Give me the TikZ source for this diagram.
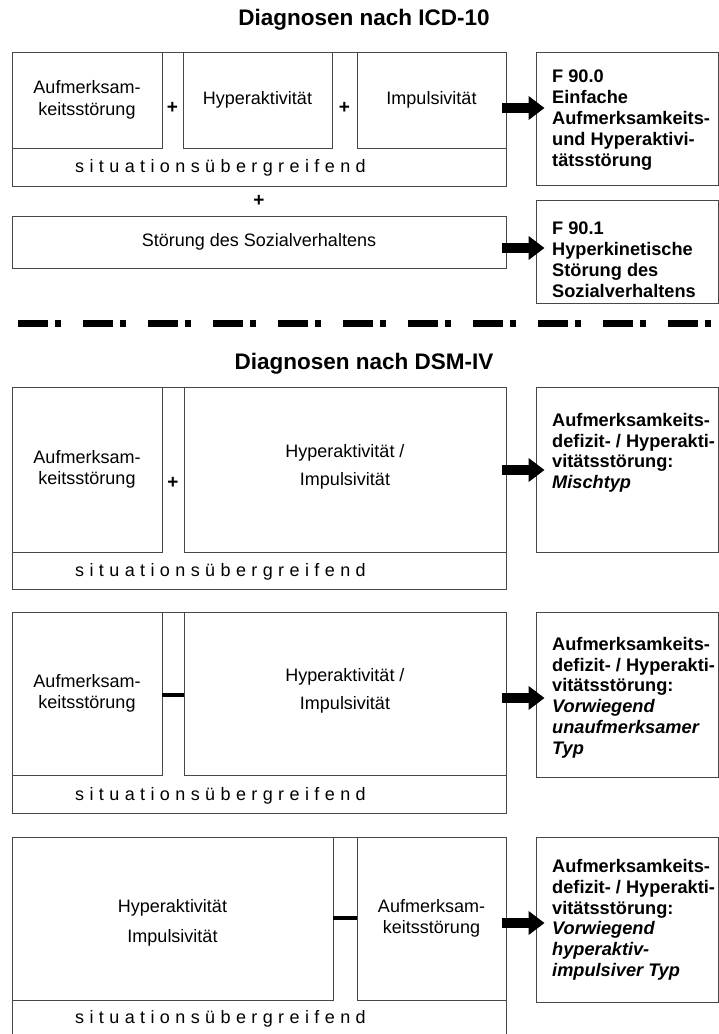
\documentclass[tikz,border=0pt]{standalone}
\usepackage{fontspec}
\setmainfont{Liberation Sans}
\newfontfamily\spacedfont[LetterSpace=30]{Liberation Sans}
\usetikzlibrary{arrows.meta,fit}
\begin{document}
\begin{tikzpicture}[x=1pt,y=-1pt,
  box/.style={draw=black!72, line width=0.9pt, inner sep=0pt},
  txt/.style={font=\fontsize{18}{21.5}\selectfont, align=center, inner sep=0pt},
  sit/.style={font=\fontsize{18}{20}\spacedfont, inner sep=0pt, anchor=base west},
  res/.style={font=\fontsize{18.2}{20.8}\selectfont\bfseries, align=left, anchor=north west, inner sep=0pt},
  title/.style={font=\fontsize{22.5}{26}\selectfont\bfseries, inner sep=0pt},
  plus/.style={font=\fontsize{19}{22}\selectfont\bfseries, inner sep=0pt},
  bigarrow/.style={line width=10pt, -{Triangle[length=16pt,width=23pt]}},
  minusline/.style={line width=4pt, black},
  sepline/.style={line width=7pt, dash pattern=on 30pt off 7pt on 6pt off 22pt}]
\useasboundingbox (0,0) rectangle (719,1034);

% ---------- ICD-10 ----------
\node[title] (t1) at (364,20) {Diagnosen nach ICD-10};

\node[box, fit={(12,52)(506,186)}] (o1) {};
\node[box, fit={(12,52)(162,148)}] (a1) {};
\node[box, fit={(183,52)(332,148)}] (h1) {};
\node[box, fit={(357,52)(506,148)}] (i1) {};
\node[txt] at (a1) {Aufmerksam-\\keitsstörung};
\node[txt] at (h1) {Hyperaktivität};
\node[txt] at (i1) {Impulsivität};
\node[plus] (p1) at (172.5,108) {+};
\node[plus] (p2) at (344.5,108) {+};
\node[sit] (s1) at (75,172) {situationsübergreifend};

\node[box, fit={(536,52)(718,185)}] (r1) {};
\node[res] (r1t) at (552,70) {F 90.0\\Einfache\\Aufmerksamkeits-\\und Hyperaktivi-\\tätsstörung};
\coordinate (y1) at (0,108);
\draw[bigarrow, shorten <=-4pt, shorten >=-9pt] (o1.east |- y1) -- (r1.west |- y1);

\node[plus] (p3) at (259,201) {+};
\node[box, fit={(12,216)(506,268)}] (sv) {};
\node[txt] at (sv) {Störung des Sozialverhaltens};

\node[box, fit={(536,200)(718,303)}] (r2) {};
\node[res] (r2t) at (552,222) {F 90.1\\Hyperkinetische\\Störung des\\Sozialverhaltens};
\coordinate (y2) at (0,248);
\draw[bigarrow, shorten <=-4pt, shorten >=-9pt] (sv.east |- y2) -- (r2.west |- y2);

% ---------- separator ----------
\coordinate (d1) at (18,323);
\coordinate (d2) at (712,323);
\draw[sepline] (d1) -- (d2);

% ---------- DSM-IV ----------
\node[title] (t2) at (364,364) {Diagnosen nach DSM-IV};

% Mischtyp
\node[box, fit={(12,387)(506,589)}] (o2) {};
\node[box, fit={(12,387)(162,552)}] (a2) {};
\node[box, fit={(184,387)(506,552)}] (h2) {};
\node[txt] at (a2) {Aufmerksam-\\keitsstörung};
\node[txt] at ([yshift=3pt]h2.center) {Hyperaktivität /\\[6.5pt]Impulsivität};
\node[plus] (p4) at (173,483) {+};
\node[sit] (s2) at (75,576) {situationsübergreifend};
\node[box, fit={(536,387)(718,552)}] (r3) {};
\node[res] (r3t) at (552,413) {Aufmerksamkeits-\\defizit- / Hyperakti-\\vitätsstörung:\\\textit{Mischtyp}};
\coordinate (y3) at (0,470);
\draw[bigarrow, shorten <=-4pt, shorten >=-9pt] (o2.east |- y3) -- (r3.west |- y3);

% vorwiegend unaufmerksam
\node[box, fit={(12,612)(506,813)}] (o3) {};
\node[box, fit={(12,612)(162,775)}] (a3) {};
\node[box, fit={(184,612)(506,775)}] (h3) {};
\node[txt] at (a3) {Aufmerksam-\\keitsstörung};
\node[txt] at ([yshift=3pt]h3.center) {Hyperaktivität /\\[6.5pt]Impulsivität};
\coordinate (m3) at (0,695);
\draw[minusline] (a3.east |- m3) -- (h3.west |- m3);
\node[sit] (s3) at (75,800) {situationsübergreifend};
\node[box, fit={(536,612)(718,777)}] (r4) {};
\node[res] (r4t) at (552,637) {Aufmerksamkeits-\\defizit- / Hyperakti-\\vitätsstörung:\\\textit{Vorwiegend}\\\textit{unaufmerksamer}\\\textit{Typ}};
\coordinate (y4) at (0,698);
\draw[bigarrow, shorten <=-4pt, shorten >=-9pt] (o3.east |- y4) -- (r4.west |- y4);

% vorwiegend hyperaktiv-impulsiv
\node[box, fit={(12,837)(506,1045)}] (o4) {};
\node[box, fit={(12,837)(333,1000)}] (h4) {};
\node[box, fit={(357,837)(506,1000)}] (a4) {};
\node[txt] at ([yshift=-4pt]h4.center) {Hyperaktivität\\[8.5pt]Impulsivität};
\node[txt] at (a4) {Aufmerksam-\\keitsstörung};
\coordinate (m4) at (0,918);
\draw[minusline] (h4.east |- m4) -- (a4.west |- m4);
\node[sit] (s4) at (75,1023) {situationsübergreifend};
\node[box, fit={(536,837)(718,1002)}] (r5) {};
\node[res] (r5t) at (552,859) {Aufmerksamkeits-\\defizit- / Hyperakti-\\vitätsstörung:\\\textit{Vorwiegend}\\\textit{hyperaktiv-}\\\textit{impulsiver Typ}};
\coordinate (y5) at (0,923);
\draw[bigarrow, shorten <=-4pt, shorten >=-9pt] (a4.east |- y5) -- (r5.west |- y5);
\end{tikzpicture}
\end{document}
